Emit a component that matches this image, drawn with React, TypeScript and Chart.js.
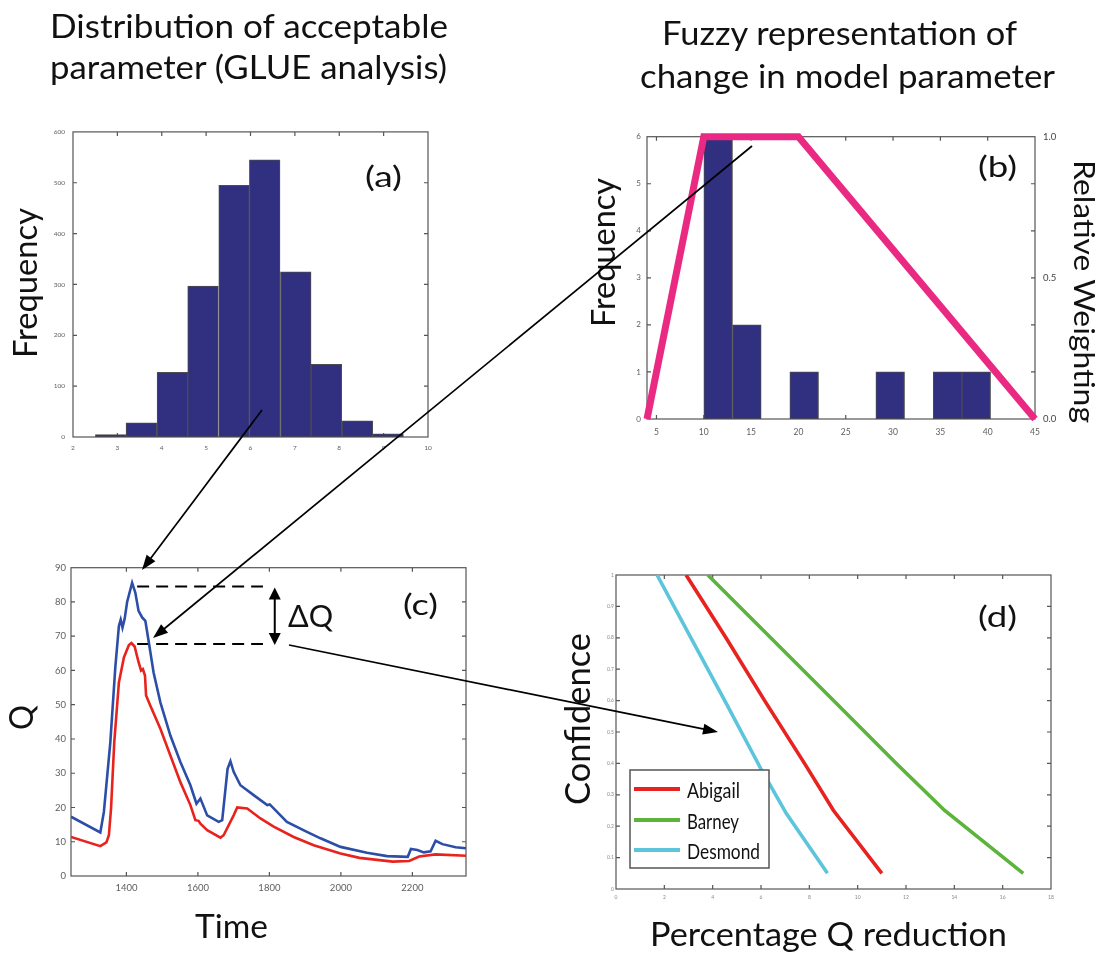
import React, { useEffect, useRef } from "react";
import { Chart, registerables } from "chart.js";
Chart.register(...registerables);

const FONT = "Lato, 'Open Sans', 'DejaVu Sans', sans-serif";
const TICK_COLOR = "#5e5e5e";
const AXIS_COLOR = "#555555";
const BAR_COLOR = "#312f80";
const BAR_EDGE = "#4d4d4d";

// ---------- (a) distribution of acceptable parameter ----------
const aBinCenters = [2.85, 3.54, 4.24, 4.93, 5.63, 6.32, 7.02, 7.71, 8.41, 9.1];
const aCounts = [5, 28, 127, 297, 495, 545, 325, 143, 32, 6];
const aXTicks = [2, 3, 4, 5, 6, 7, 8, 9, 10];
const aYTicks = [0, 100, 200, 300, 400, 500, 600];

// ---------- (b) fuzzy representation ----------
const bBinCenters = [11.52, 14.55, 17.58, 20.61, 23.64, 26.67, 29.7, 32.73, 35.76, 38.79];
const bCounts = [6, 2, 0, 1, 0, 0, 1, 0, 1, 1];
const bFuzzyX = [4, 10, 20, 45];
const bFuzzyW = [0, 1, 1, 0];
const bXTicks = [5, 10, 15, 20, 25, 30, 35, 40, 45];
const bYTicks = [0, 1, 2, 3, 4, 5, 6];
const bY2Ticks = [0, 0.5, 1];

// ---------- (c) hydrograph ----------
const cBlueT = [1245, 1327, 1337, 1355, 1369, 1379, 1384, 1389, 1395, 1402, 1416, 1425, 1434, 1444, 1453, 1463, 1476, 1495, 1523, 1551, 1579, 1596, 1607, 1626, 1658, 1668, 1683, 1691, 1700, 1719, 1756, 1794, 1801, 1849, 1905, 1943, 1999, 2073, 2129, 2187, 2196, 2214, 2232, 2251, 2265, 2284, 2321, 2350];
const cBlueQ = [17.3, 12.7, 18.7, 39, 61, 73, 74.8, 72.5, 75, 80, 85.6, 82.7, 77.4, 75.5, 74.5, 68, 59.4, 50.7, 41, 33.3, 26.5, 21.1, 22.6, 17.7, 15.8, 16.3, 31.3, 33.5, 30.4, 26.5, 23.6, 20.7, 20.9, 15.8, 12.9, 11, 8.5, 6.8, 5.8, 5.6, 7.9, 7.6, 6.9, 7.2, 10.3, 9.3, 8.4, 8.1];
const cRedT = [1245, 1327, 1344, 1351, 1357, 1366, 1379, 1393, 1407, 1414, 1423, 1434, 1441, 1446, 1452, 1455, 1467, 1495, 1523, 1551, 1579, 1593, 1602, 1607, 1626, 1663, 1672, 1700, 1710, 1738, 1775, 1812, 1868, 1924, 1999, 2052, 2145, 2191, 2219, 2265, 2350];
const cRedQ = [11.4, 8.7, 9.8, 11.9, 19.7, 39, 56.5, 63.8, 67.4, 68, 67, 62.4, 60, 60.4, 58.5, 52.7, 49.7, 43, 35.2, 27.4, 20.7, 16.3, 16.1, 15.3, 13.4, 11.2, 11.9, 17.7, 20, 19.7, 16.8, 14.4, 11.4, 9, 6.6, 5.3, 4.2, 4.4, 5.7, 6.3, 5.9];
const cPeakLineT = [1430, 1782];
const cUpperPeakQ = [84.5, 84.5];
const cLowerPeakQ = [67.7, 67.7];
const cDeltaArrowT = 1815;
const cXTicks = [1400, 1600, 1800, 2000, 2200];
const cYTicks = [0, 10, 20, 30, 40, 50, 60, 70, 80, 90];

// ---------- (d) confidence vs percentage Q reduction ----------
const dNames = ["Abigail", "Barney", "Desmond"];
const dColors = ["#e8221f", "#5db43b", "#5cc5dc"];
const dAbigailX = [2.9, 4.55, 6.15, 7.8, 9.0, 11.0];
const dAbigailC = [1, 0.8, 0.6, 0.4, 0.25, 0.05];
const dBarneyX = [3.8, 6.4, 9.0, 11.6, 13.6, 16.85];
const dBarneyC = [1, 0.8, 0.6, 0.4, 0.25, 0.05];
const dDesmondX = [1.7, 3.1, 4.5, 6.05, 7.05, 8.75];
const dDesmondC = [1, 0.8, 0.6, 0.375, 0.24, 0.05];
const dXTicks = [0, 2, 4, 6, 8, 10, 12, 14, 16, 18];
const dYTicks = [0, 0.1, 0.2, 0.3, 0.4, 0.5, 0.6, 0.7, 0.8, 0.9, 1];

type Box = { l: number; t: number; w: number; h: number; padL: number; padR: number; padT: number; padB: number };

const boxA: Box = { l: 73, t: 130, w: 355, h: 307, padL: 40, padR: 15, padT: 10, padB: 25 };
const boxB: Box = { l: 647, t: 133, w: 388, h: 286, padL: 30, padR: 40, padT: 10, padB: 25 };
const boxC: Box = { l: 71, t: 567, w: 395, h: 309, padL: 40, padR: 15, padT: 10, padB: 25 };
const boxD: Box = { l: 616, t: 575, w: 435, h: 314, padL: 30, padR: 15, padT: 10, padB: 20 };

function zip(xs: number[], ys: number[]) {
  return xs.map((x, i) => ({ x, y: ys[i] }));
}

function axis(min: number, max: number, ticks: number[], size: number, padding: number, fit: { w?: number; h?: number }, fmt?: (v: number) => string, color = TICK_COLOR) {
  return {
    type: "linear",
    min,
    max,
    offset: false,
    grid: { display: false, drawTicks: false },
    border: { display: false },
    ticks: {
      font: { size, family: FONT },
      color,
      padding,
      maxRotation: 0,
      autoSkip: false,
      callback: (v: number) => (fmt ? fmt(v) : String(v)),
    },
    afterBuildTicks: (s: any) => {
      s.ticks = ticks.map((v) => ({ value: v }));
    },
    afterFit: (s: any) => {
      if (fit.w != null) s.width = fit.w;
      if (fit.h != null) s.height = fit.h;
    },
  };
}

function boxPlugin(yKey: string, tickLen: number) {
  return {
    id: "matlabBox",
    beforeDatasetsDraw(chart: any) {
      const { ctx, chartArea: a } = chart;
      const xs = chart.scales.x;
      const ys = chart.scales[yKey];
      ctx.save();
      ctx.strokeStyle = AXIS_COLOR;
      ctx.lineWidth = 1.2;
      ctx.strokeRect(a.left, a.top, a.right - a.left, a.bottom - a.top);
      ctx.beginPath();
      xs.ticks.forEach((t: any) => {
        const p = xs.getPixelForValue(t.value);
        if (p <= a.left + 1 || p >= a.right - 1) return;
        ctx.moveTo(p, a.bottom);
        ctx.lineTo(p, a.bottom - tickLen);
        ctx.moveTo(p, a.top);
        ctx.lineTo(p, a.top + tickLen);
      });
      ys.ticks.forEach((t: any) => {
        const p = ys.getPixelForValue(t.value);
        if (p <= a.top + 1 || p >= a.bottom - 1) return;
        ctx.moveTo(a.left, p);
        ctx.lineTo(a.left + tickLen, p);
        ctx.moveTo(a.right, p);
        ctx.lineTo(a.right - tickLen, p);
      });
      ctx.stroke();
      ctx.restore();
    },
  };
}

const deltaArrowPlugin = {
  id: "deltaArrow",
  afterDatasetsDraw(chart: any) {
    const { ctx } = chart;
    const xs = chart.scales.x;
    const ys = chart.scales.y;
    const px = xs.getPixelForValue(cDeltaArrowT);
    const top = ys.getPixelForValue(cUpperPeakQ[0]) + 1;
    const bot = ys.getPixelForValue(cLowerPeakQ[0]) + 1;
    const hl = 12;
    const hw = 6;
    ctx.save();
    ctx.strokeStyle = "#000";
    ctx.fillStyle = "#000";
    ctx.lineWidth = 2;
    ctx.beginPath();
    ctx.moveTo(px, top + hl - 2);
    ctx.lineTo(px, bot - hl + 2);
    ctx.stroke();
    ctx.beginPath();
    ctx.moveTo(px, top);
    ctx.lineTo(px - hw, top + hl);
    ctx.lineTo(px + hw, top + hl);
    ctx.closePath();
    ctx.fill();
    ctx.beginPath();
    ctx.moveTo(px, bot);
    ctx.lineTo(px - hw, bot - hl);
    ctx.lineTo(px + hw, bot - hl);
    ctx.closePath();
    ctx.fill();
    ctx.restore();
  },
};

const commonOpts = {
  responsive: false,
  maintainAspectRatio: false,
  animation: false,
  devicePixelRatio: 1,
  events: [],
};
const noPlugins = { legend: { display: false }, tooltip: { enabled: false } };

function configA(b: Box) {
  return {
    type: "bar",
    data: {
      datasets: [
        {
          data: zip(aBinCenters, aCounts),
          backgroundColor: BAR_COLOR,
          borderColor: BAR_EDGE,
          borderWidth: 1,
          borderSkipped: false,
          barPercentage: 1,
          categoryPercentage: 1,
        },
      ],
    },
    options: {
      ...commonOpts,
      layout: { padding: { top: b.padT, right: b.padR, left: 0, bottom: 0 } },
      plugins: noPlugins,
      scales: {
        x: axis(2, 10, aXTicks, 6.5, 7, { h: b.padB }),
        y: axis(0, 600, aYTicks, 6.5, 8, { w: b.padL }),
      },
    },
    plugins: [boxPlugin("y", 4)],
  };
}

function configB(b: Box) {
  return {
    type: "bar",
    data: {
      datasets: [
        {
          type: "line",
          data: zip(bFuzzyX, bFuzzyW),
          yAxisID: "y2",
          borderColor: "#ea2a82",
          borderWidth: 7,
          pointRadius: 0,
          tension: 0,
          clip: false,
          order: 1,
        },
        {
          type: "bar",
          data: zip(bBinCenters, bCounts),
          yAxisID: "y",
          backgroundColor: BAR_COLOR,
          borderColor: BAR_EDGE,
          borderWidth: 1,
          borderSkipped: false,
          barPercentage: 1,
          categoryPercentage: 1,
          order: 2,
        },
      ],
    },
    options: {
      ...commonOpts,
      layout: { padding: { top: b.padT, right: 0, left: 0, bottom: 0 } },
      plugins: noPlugins,
      scales: {
        x: axis(4, 45, bXTicks, 8.5, 8, { h: b.padB }),
        y: { ...axis(0, 6, bYTicks, 8, 6, { w: b.padL }), position: "left" },
        y2: {
          ...axis(0, 1, bY2Ticks, 9.5, 8, { w: b.padR }, (v) => v.toFixed(1), "#444"),
          position: "right",
        },
      },
    },
    plugins: [boxPlugin("y", 4)],
  };
}

function configC(b: Box) {
  return {
    type: "line",
    data: {
      datasets: [
        { data: zip(cBlueT, cBlueQ), borderColor: "#2c4ea9", borderWidth: 2.6, pointRadius: 0, tension: 0 },
        { data: zip(cRedT, cRedQ), borderColor: "#e8231e", borderWidth: 2.6, pointRadius: 0, tension: 0 },
        { data: zip(cPeakLineT, cUpperPeakQ), borderColor: "#000", borderWidth: 2, borderDash: [12, 7], pointRadius: 0 },
        { data: zip(cPeakLineT, cLowerPeakQ), borderColor: "#000", borderWidth: 2, borderDash: [12, 7], pointRadius: 0 },
      ],
    },
    options: {
      ...commonOpts,
      layout: { padding: { top: b.padT, right: b.padR, left: 0, bottom: 0 } },
      plugins: noPlugins,
      scales: {
        x: axis(1245, 2350, cXTicks, 9.5, 6, { h: b.padB }),
        y: axis(0, 90, cYTicks, 9.5, 5, { w: b.padL }),
      },
    },
    plugins: [boxPlugin("y", 4), deltaArrowPlugin],
  };
}

function configD(b: Box) {
  const series = [zip(dAbigailX, dAbigailC), zip(dBarneyX, dBarneyC), zip(dDesmondX, dDesmondC)];
  return {
    type: "line",
    data: {
      datasets: series.map((data, i) => ({
        label: dNames[i],
        data,
        borderColor: dColors[i],
        borderWidth: 3.6,
        pointRadius: 0,
        tension: 0,
      })),
    },
    options: {
      ...commonOpts,
      layout: { padding: { top: b.padT, right: b.padR, left: 0, bottom: 0 } },
      plugins: noPlugins,
      scales: {
        x: axis(0, 18, dXTicks, 5, 5, { h: b.padB }, undefined, "#888"),
        y: axis(0, 1, dYTicks, 5, 2, { w: b.padL }, (v) => (v === 0 || v === 1 ? String(v) : v.toFixed(1)), "#888"),
      },
    },
    plugins: [boxPlugin("y", 4)],
  };
}

function Panel({ box, make }: { box: Box; make: (b: Box) => any }) {
  const ref = useRef<HTMLCanvasElement>(null);
  useEffect(() => {
    const chart = new Chart(ref.current as HTMLCanvasElement, make(box));
    return () => chart.destroy();
  }, []);
  const w = box.w + box.padL + box.padR;
  const h = box.h + box.padT + box.padB;
  return (
    <canvas
      ref={ref}
      width={w}
      height={h}
      style={{ position: "absolute", left: box.l - box.padL, top: box.t - box.padT, width: w, height: h }}
    />
  );
}

function Arrow({ x1, y1, x2, y2, head = 15, hw = 5.5 }: { x1: number; y1: number; x2: number; y2: number; head?: number; hw?: number }) {
  const dx = x2 - x1;
  const dy = y2 - y1;
  const L = Math.hypot(dx, dy);
  const ux = dx / L;
  const uy = dy / L;
  const bx = x2 - ux * head;
  const by = y2 - uy * head;
  const px = -uy;
  const py = ux;
  return (
    <g>
      <line x1={x1} y1={y1} x2={bx + ux * 2} y2={by + uy * 2} stroke="#000" strokeWidth={1.7} />
      <polygon points={`${x2},${y2} ${bx + px * hw},${by + py * hw} ${bx - px * hw},${by - py * hw}`} fill="#000" />
    </g>
  );
}

function T({ x, y, len, size, rot, children }: { x: number; y: number; len: number; size: number; rot?: number; children: string }) {
  return (
    <text
      transform={`translate(${x},${y})${rot ? ` rotate(${rot})` : ""}`}
      x={0}
      y={0}
      fontFamily={FONT}
      fontSize={size}
      fill="#111"
      textLength={len}
      lengthAdjust="spacingAndGlyphs"
    >
      {children}
    </text>
  );
}

const legendRowY = [789, 820, 850];
const legendTextLen = [53, 52, 73];

export default function App() {
  return (
    <div style={{ position: "absolute", left: 0, top: 0, width: 1109, height: 956, background: "#fff", overflow: "hidden" }}>
      <Panel box={boxA} make={configA} />
      <Panel box={boxB} make={configB} />
      <Panel box={boxC} make={configC} />
      <Panel box={boxD} make={configD} />
      <svg width={1109} height={956} style={{ position: "absolute", left: 0, top: 0, pointerEvents: "none" }}>
        <T x={50} y={38} len={398} size={32}>Distribution of acceptable</T>
        <T x={50} y={79} len={397} size={32}>parameter (GLUE analysis)</T>
        <T x={662} y={45} len={355} size={32}>Fuzzy representation of</T>
        <T x={640} y={88} len={415} size={32}>change in model parameter</T>

        <T x={37} y={358} len={150} size={32} rot={-90}>Frequency</T>
        <T x={615} y={327} len={149} size={32} rot={-90}>Frequency</T>
        <T x={1074} y={160} len={263} size={29} rot={90}>Relative Weighting</T>
        <T x={33} y={730} len={25} size={32} rot={-90}>Q</T>
        <T x={195} y={938} len={73} size={32}>Time</T>
        <T x={590} y={805} len={172} size={34} rot={-90}>Confidence</T>
        <T x={650} y={946} len={357} size={32}>Percentage Q reduction</T>

        <T x={365} y={187} len={37} size={28}>(a)</T>
        <T x={978} y={177} len={39} size={28}>(b)</T>
        <T x={403} y={615} len={35} size={28}>(c)</T>
        <T x={978} y={627} len={39} size={28}>(d)</T>
        <T x={288} y={627} len={45} size={30}>ΔQ</T>

        <rect x={630} y={770} width={139} height={98} fill="#fff" stroke="#555" strokeWidth={1.5} />
        {dNames.map((n, i) => (
          <g key={n}>
            <line x1={634} y1={legendRowY[i]} x2={680} y2={legendRowY[i]} stroke={dColors[i]} strokeWidth={4} />
            <T x={687} y={legendRowY[i] + 9} len={legendTextLen[i]} size={21}>{n}</T>
          </g>
        ))}

        <Arrow x1={262} y1={410} x2={142} y2={570} />
        <Arrow x1={752} y1={146} x2={153} y2={638} />
        <Arrow x1={289} y1={645} x2={718} y2={732} />
      </svg>
    </div>
  );
}
